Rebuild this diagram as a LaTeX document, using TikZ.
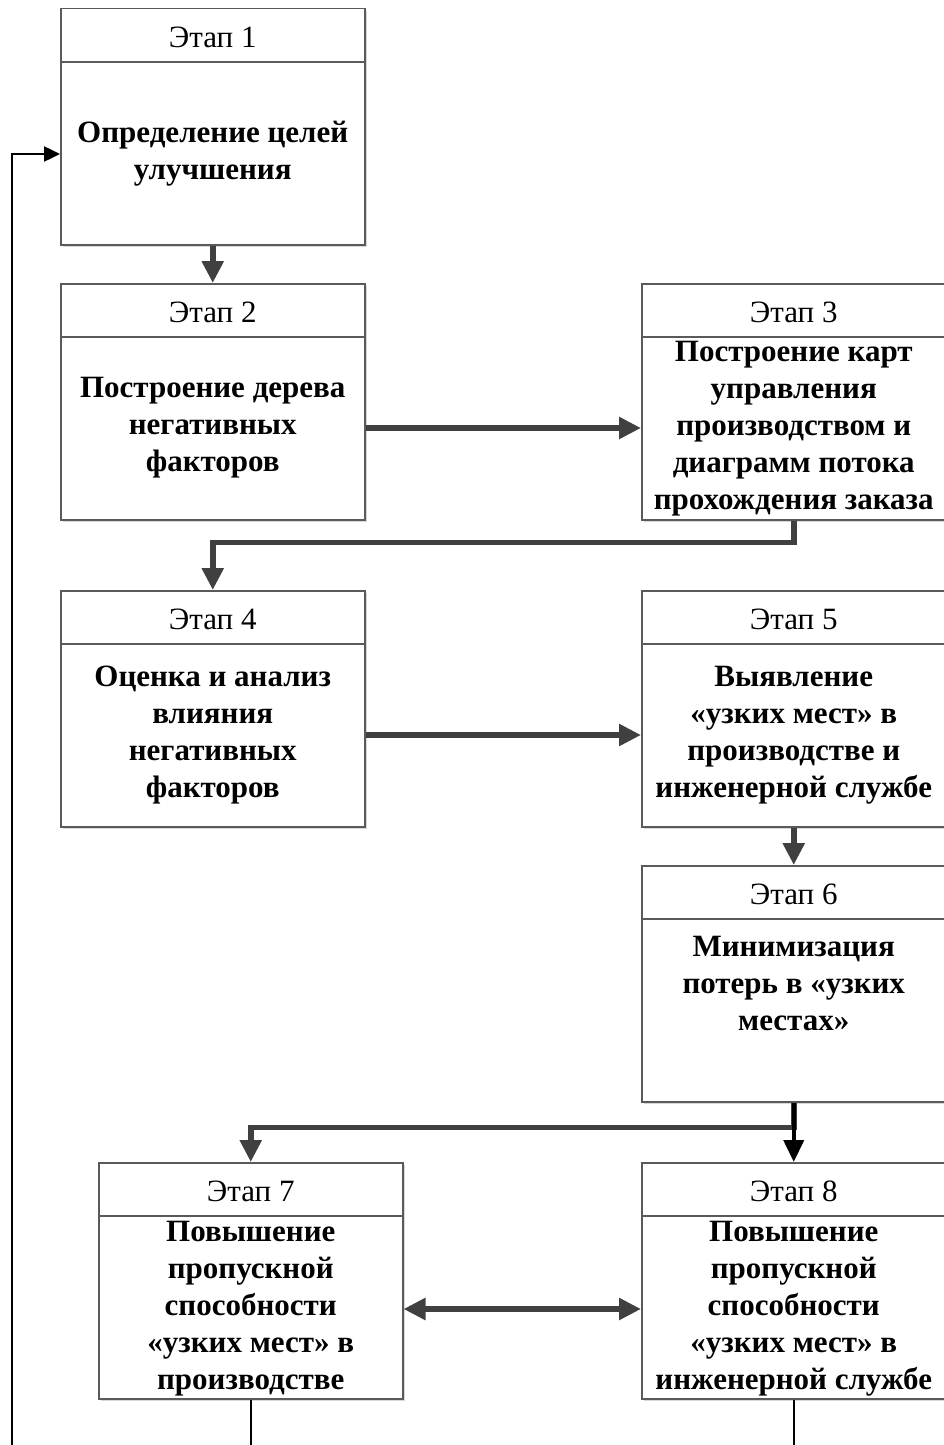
\documentclass[tikz,border=0pt]{standalone}
\usepackage{fontspec}
\setmainfont{Liberation Serif}
\usetikzlibrary{arrows.meta,calc,shadows}
\definecolor{frame}{RGB}{90,90,90}
\definecolor{flow}{RGB}{64,64,64}
\begin{document}
\begin{tikzpicture}[x=1pt,y=-1pt,
  stagebox/.style={draw=frame,line width=1.5pt,fill=white,minimum width=304pt,minimum height=236pt,
    anchor=north west,inner sep=0pt,
    drop shadow={shadow xshift=2pt,shadow yshift=-2pt,fill=black!30,opacity=0.5}},
  hdr/.style={font=\fontsize{31}{37}\selectfont,inner sep=0pt},
  body/.style={font=\fontsize{31}{37}\selectfont\bfseries,align=center,inner sep=0pt},
  flowarrow/.style={draw=flow,line width=5.5pt,-{Triangle[length=22pt,width=21pt]}},
  flowboth/.style={draw=flow,line width=5.5pt,{Triangle[length=22pt,width=21pt]}-{Triangle[length=22pt,width=21pt]}},
  blackarrow/.style={draw=black,line width=4pt,-{Triangle[length=22pt,width=20pt]}},
  returnline/.style={draw=black,line width=2.5pt},
  returnarrow/.style={draw=black,line width=2.5pt,-{Triangle[length=16pt,width=15pt]}}]
\useasboundingbox (0,0) rectangle (944,1445);

% stage boxes
\node[stagebox] (b1) at (60,8) {};
\node[stagebox] (b2) at (60,283) {};
\node[stagebox] (b3) at (641,283) {};
\node[stagebox] (b4) at (60,590) {};
\node[stagebox] (b5) at (641,590) {};
\node[stagebox] (b6) at (641,865) {};
\node[stagebox] (b7) at (98,1162) {};
\node[stagebox] (b8) at (641,1162) {};

% header separators and titles
\foreach \b/\n in {b1/1,b2/2,b3/3,b4/4,b5/5,b6/6,b7/7,b8/8}{
  \draw[frame,line width=1.5pt] ($(\b.north west)+(0,54)$) -- ($(\b.north east)+(0,54)$);
  \node[hdr] (h\n) at ($(\b.north)+(0,29)$) {Этап \n};
}

% stage descriptions
\node[body] (t1) at ($(b1.north)+(0,146)$) {Определение целей\\улучшения};
\node[body] (t2) at ($(b2.north)+(0,145)$) {Построение дерева\\негативных\\факторов};
\node[body] (t3) at ($(b3.north)+(0,146)$) {Построение карт\\управления\\производством и\\диаграмм потока\\прохождения заказа};
\node[body] (t4) at ($(b4.north)+(0,145)$) {Оценка и анализ\\влияния\\негативных\\факторов};
\node[body] (t5) at ($(b5.north)+(0,145)$) {Выявление\\«узких мест» в\\производстве и\\инженерной службе};
\node[body] (t6) at ($(b6.north)+(0,118)$) {Минимизация\\потерь в «узких\\местах»};
\node[body] (t7) at ($(b7.north)+(0,147)$) {Повышение\\пропускной\\способности\\«узких мест» в\\производстве};
\node[body] (t8) at ($(b8.north)+(0,147)$) {Повышение\\пропускной\\способности\\«узких мест» в\\инженерной службе};

% flow between stages
\draw[flowarrow] (b1.south) -- (b2.north);
\draw[flowarrow] (t2 -| b2.east) -- (t2 -| b3.west);
\draw[flowarrow] (b3.south) -- ++(0,22) -| (b4.north);
\draw[flowarrow] (t4 -| b4.east) -- (t4 -| b5.west);
\draw[flowarrow] (b5.south) -- (b6.north);
\draw[flowarrow] (b6.south) -- ++(0,25) -| (b7.north);
\draw[blackarrow] (b6.south) -- (b8.north);
\draw[flowboth] (t7 -| b7.east) -- (t7 -| b8.west);

% return loop to stage 1
\coordinate (loop) at (12,1445);
\draw[returnline] (b7.south) -- (b7.south |- loop);
\draw[returnline] (b8.south) -- (b8.south |- loop);
\draw[returnarrow] (loop) |- (t1 -| b1.west);
\end{tikzpicture}
\end{document}
